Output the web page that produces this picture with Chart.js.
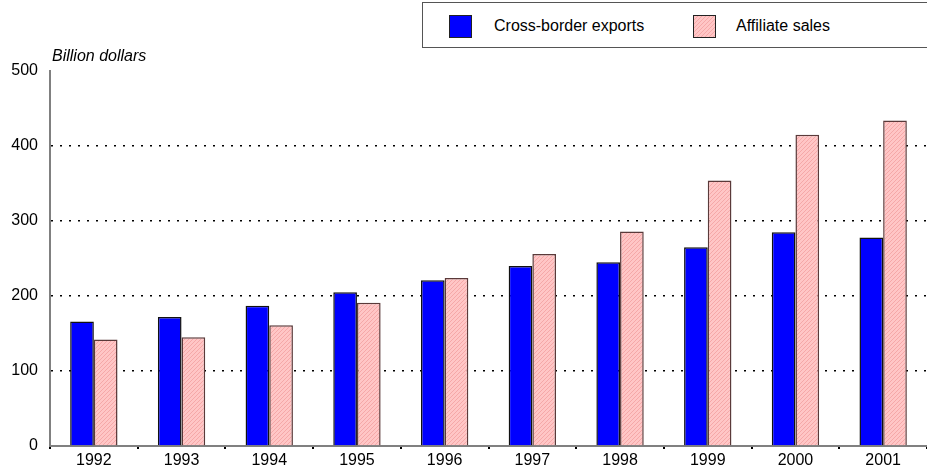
<!DOCTYPE html>
<html>
<head>
<meta charset="utf-8">
<script src="https://cdn.jsdelivr.net/npm/chart.js@4/dist/chart.umd.min.js"></script>
<style>
  body { margin: 0; background: #fff; }
  #wrap { position: relative; width: 927px; height: 475px; }
  #legend {
    position: absolute; left: 422px; top: 2px; width: 510px; height: 46px;
    border: 1px solid #555; box-sizing: border-box; background: #fff;
    font: 16px "Liberation Sans", Arial, sans-serif; color: #000;
  }
  .sw { position: absolute; top: 12px; width: 23px; height: 23px; border: 1px solid #222; box-sizing: border-box; }
  .lt { position: absolute; top: 14px; }
</style>
</head>
<body>
<div id="wrap">
  <canvas id="chart" width="927" height="475"></canvas>
  <div id="legend">
    <div class="sw" style="left:26px;background:#0000ff;"></div>
    <div class="lt" style="left:71px;">Cross-border exports</div>
    <div class="sw" id="pinkSw" style="left:270px;"></div>
    <div class="lt" style="left:313px;">Affiliate sales</div>
  </div>
</div>
<script>
// Data
const years = ['1992', '1993', '1994', '1995', '1996', '1997', '1998', '1999', '2000', '2001'];
const crossBorderExports = [166, 172, 187, 205, 221, 240, 245, 265, 285, 278];
const affiliateSales = [142, 145, 161, 191, 224, 256, 286, 354, 415, 434];
const yTicks = [0, 100, 200, 300, 400, 500];

// fine diagonal hatching for the pink bars
function pinkPattern() {
    const c = document.createElement('canvas');
    c.width = 4;
    c.height = 4;
    const g = c.getContext('2d');
    g.fillStyle = '#ffc6c6';
    g.fillRect(0, 0, 4, 4);
    g.fillStyle = '#f5a8a8';
    g.fillRect(0, 3, 1, 1);
    g.fillRect(1, 2, 1, 1);
    g.fillRect(2, 1, 1, 1);
    g.fillRect(3, 0, 1, 1);
    return c;
}
const patCanvas = pinkPattern();
document.getElementById('pinkSw').style.background = 'url(' + patCanvas.toDataURL() + ')';

const ctx = document.getElementById('chart').getContext('2d');
const pink = ctx.createPattern(patCanvas, 'repeat');

// y axis caption above the plot
const captionPlugin = {
    id: 'caption',
    afterDraw(chart) {
        const c = chart.ctx;
        c.save();
        c.font = 'italic 16px "Liberation Sans", Arial, sans-serif';
        c.fillStyle = '#000';
        c.textBaseline = 'alphabetic';
        c.fillText('Billion dollars', 52, 61);
        c.restore();
    }
};

new Chart(ctx, {
    type: 'bar',
    data: {
        labels: years,
        datasets: [{
            label: 'Cross-border exports',
            data: crossBorderExports,
            backgroundColor: '#0000ff',
            borderColor: '#111',
            borderWidth: 1.5,
            borderSkipped: 'bottom'
        }, {
            label: 'Affiliate sales',
            data: affiliateSales,
            backgroundColor: pink,
            borderColor: '#5a3a3a',
            borderWidth: 1.5,
            borderSkipped: 'bottom'
        }]
    },
    options: {
        responsive: false,
        animation: false,
        layout: { padding: { top: 71, right: 0, left: 0, bottom: 0 } },
        datasets: { bar: { categoryPercentage: 0.54, barPercentage: 1.0 } },
        plugins: {
            legend: { display: false },
            tooltip: { enabled: false }
        },
        scales: {
            x: {
                afterFit: s => { s.height = 29; },
                grid: { display: true, drawOnChartArea: false, color: '#000', lineWidth: 2, tickLength: 3, offset: true },
                border: { color: '#808080', width: 2 },
                ticks: { color: '#000', font: { family: '"Liberation Sans", Arial, sans-serif', size: 16 }, padding: 2, maxRotation: 0 }
            },
            y: {
                min: 0,
                max: 500,
                afterFit: s => { s.width = 50; },
                afterBuildTicks: s => { s.ticks = yTicks.map(v => ({ value: v })); },
                grid: {
                    color: c2 => (c2.tick && c2.tick.value > 0 && c2.tick.value < 500) ? '#000' : 'rgba(0,0,0,0)',
                    lineWidth: 1.5,
                    drawTicks: false
                },
                border: { color: '#808080', width: 2, dash: [2, 7] },
                ticks: { color: '#000', font: { family: '"Liberation Sans", Arial, sans-serif', size: 16 }, padding: 12 }
            }
        }
    },
    plugins: [captionPlugin]
});
</script>
</body>
</html>
